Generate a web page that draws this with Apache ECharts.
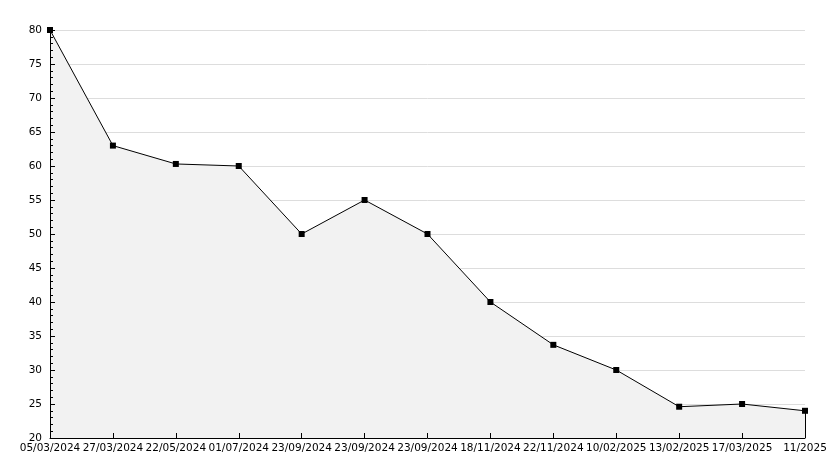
<!DOCTYPE html>
<html>
<head>
<meta charset="utf-8">
<script src="https://cdn.jsdelivr.net/npm/echarts@6/dist/echarts.min.js"></script>
<style>html,body{margin:0;padding:0;background:#fff}#c{width:834px;height:468px}</style>
</head>
<body>
<div id="c"></div>
<script>
const categories = ['05/03/2024','27/03/2024','22/05/2024','01/07/2024','23/09/2024','23/09/2024','23/09/2024','18/11/2024','22/11/2024','10/02/2025','13/02/2025','17/03/2025','11/2025'];
const values = [80, 63, 60.3, 60, 50, 55, 50, 40, 33.7, 30, 24.6, 25, 24];
const yMin = 20, yMax = 80, yStep = 5;

const chart = echarts.init(document.getElementById('c'), null, {renderer: 'canvas'});
const font = {fontFamily: 'DejaVu Sans', fontSize: 10.5, color: '#000'};
const lastIdx = categories.length - 1;
chart.setOption({
  animation: false,
  backgroundColor: '#fff',
  grid: {left: 50, right: 29, top: 30, bottom: 30, containLabel: false},
  xAxis: {
    type: 'category',
    data: categories,
    boundaryGap: false,
    z: 5,
    axisLine: {lineStyle: {color: '#000', width: 1}},
    axisTick: {inside: true, length: 5, alignWithLabel: true, interval: 0, lineStyle: {color: '#000'}},
    axisLabel: Object.assign({interval: 0, margin: 5}, font),
    splitLine: {show: false}
  },
  yAxis: [{
    type: 'value',
    min: yMin, max: yMax, interval: yStep,
    z: 0,
    axisLine: {show: false},
    axisTick: {show: false},
    axisLabel: {show: false},
    splitLine: {show: true, lineStyle: {color: '#dddddd', width: 1}}
  }, {
    type: 'value',
    position: 'left',
    min: yMin, max: yMax, interval: yStep,
    z: 5,
    axisLine: {show: true, onZero: false, lineStyle: {color: '#000', width: 1}},
    axisTick: {show: true, inside: true, length: 5, lineStyle: {color: '#000'}},
    minorTick: {show: true, splitNumber: 5, length: 3, lineStyle: {color: '#000'}},
    axisLabel: Object.assign({margin: 8}, font),
    splitLine: {show: false}
  }],
  series: [{
    type: 'line',
    data: values,
    yAxisIndex: 0,
    symbol: 'rect',
    symbolSize: 6,
    z: 3,
    itemStyle: {color: '#000'},
    lineStyle: {color: '#000', width: 1},
    areaStyle: {color: '#f2f2f2', opacity: 1, origin: 'start'},
    markLine: {
      silent: true,
      symbol: ['none', 'none'],
      label: {show: false},
      lineStyle: {color: '#000', width: 1, type: 'solid'},
      data: [[{coord: [lastIdx, yMin]}, {coord: [lastIdx, values[lastIdx]]}]]
    }
  }]
});
</script>
</body>
</html>
